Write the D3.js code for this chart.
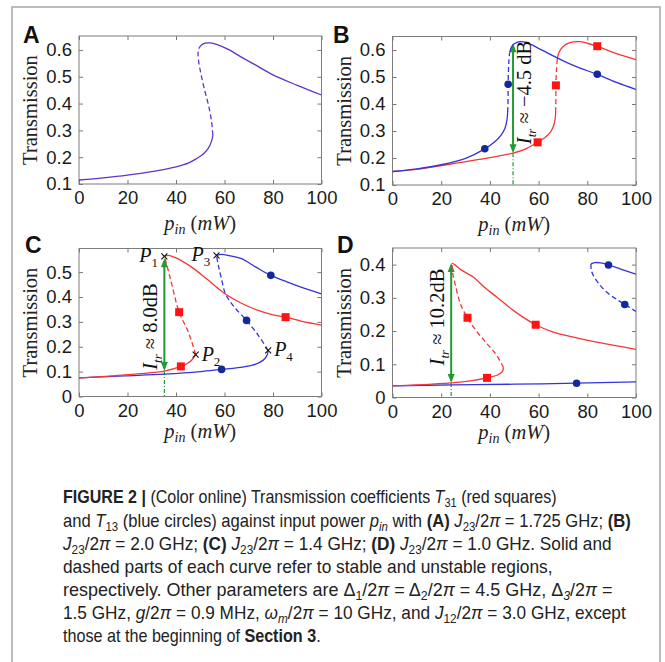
<!DOCTYPE html>
<html>
<head>
<meta charset="utf-8">
<script src="https://cdn.jsdelivr.net/npm/d3@7"></script>
<style>
  body { margin: 0; background: #fff; }
  svg { display: block; }
</style>
</head>
<body>
<svg id="fig" width="665" height="662"></svg>
<script>
// ---- tick values ----
const pinTicks = [0, 20, 40, 60, 80, 100];
const ticksAB = [0.1, 0.2, 0.3, 0.4, 0.5, 0.6];
const ticksC = [0, 0.1, 0.2, 0.3, 0.4, 0.5];
const ticksD = [0, 0.1, 0.2, 0.3, 0.4];

// ---- Panel A (T31 and T13 coincide) : [p_in (mW), transmission] ----
const aLow = [[0, 0.115], [10, 0.123], [20, 0.133], [30, 0.146], [40, 0.164], [45, 0.178], [48.5, 0.195], [51, 0.21], [53.3, 0.233], [54.6, 0.258], [55.2, 0.282]];
const aMid = [[55.2, 0.282], [54.7, 0.33], [53.5, 0.39], [51.8, 0.45], [50.3, 0.51], [49.3, 0.56], [49.1, 0.59], [49.5, 0.607]];
const aHigh = [[49.5, 0.607], [50.5, 0.618], [52, 0.625], [54, 0.626], [57, 0.62], [62, 0.6], [66.4, 0.576], [72, 0.548], [80, 0.507], [90, 0.468], [100, 0.432]];

// ---- Panel B ----
const bBlueLow = [[0, 0.15], [10, 0.16], [20, 0.175], [30, 0.199], [37.9, 0.234], [42, 0.26], [44.6, 0.285], [46.2, 0.31], [47, 0.34], [47.3, 0.37]];
const bBlueMid = [[47.3, 0.37], [47.45, 0.42], [47.5, 0.473], [47.6, 0.52], [47.8, 0.56], [48.1, 0.59]];
const bBlueHigh = [[48.1, 0.59], [48.8, 0.61], [50, 0.623], [52.3, 0.631], [55, 0.628], [59.2, 0.61], [65, 0.583], [70.1, 0.56], [77, 0.533], [84.1, 0.51], [92, 0.48], [100, 0.454]];
const bRedLow = [[0, 0.15], [10, 0.158], [22.2, 0.175], [35, 0.194], [49.5, 0.218], [55, 0.235], [59.6, 0.258], [62.5, 0.275], [64.6, 0.293], [66, 0.315], [66.8, 0.345], [67, 0.37]];
const bRedMid = [[67, 0.37], [67.1, 0.42], [67.1, 0.469], [67.3, 0.52], [67.6, 0.56]];
const bRedHigh = [[67.6, 0.56], [68.3, 0.59], [70, 0.612], [72.5, 0.626], [77, 0.631], [80, 0.625], [84.1, 0.614], [90, 0.593], [100, 0.564]];
const bSquares = [[59.6, 0.258], [67.1, 0.469], [84.1, 0.614]];
const bCircles = [[37.9, 0.234], [47.5, 0.473], [84.1, 0.51]];
const bArrow = { p: 49.5, lo: 0.218, hi: 0.625, floor: 0.1 };

// ---- Panel C ----
const cRedLow = [[0, 0.075], [10, 0.08], [19, 0.087], [28, 0.094], [35.2, 0.102], [42, 0.121], [45, 0.135], [46.8, 0.15], [48.1, 0.168]];
const cRedMid = [[48.1, 0.168], [46.5, 0.22], [44.6, 0.27], [41.3, 0.339], [38.2, 0.453], [36.2, 0.53], [35.2, 0.563]];
const cRedHigh = [[35.2, 0.563], [36.8, 0.567], [40, 0.557], [46.4, 0.52], [53, 0.47], [60.2, 0.413], [67, 0.375], [73.9, 0.346], [80, 0.328], [85.2, 0.319], [92, 0.302], [100, 0.287]];
const cBlueLow = [[0, 0.075], [19, 0.083], [35.2, 0.09], [50, 0.1], [58.8, 0.109], [65, 0.115], [71.2, 0.125], [74.5, 0.137], [76.6, 0.152], [77.7, 0.17], [78, 0.185]];
const cBlueMid = [[78, 0.185], [74, 0.245], [69.1, 0.306], [64, 0.36], [60.4, 0.413], [58.6, 0.48], [57.4, 0.53], [56.7, 0.567]];
const cBlueHigh = [[56.7, 0.567], [58.8, 0.571], [62, 0.566], [67, 0.554], [73, 0.52], [79.1, 0.487], [86, 0.46], [93, 0.435], [100, 0.413]];
const cSquares = [[41.3, 0.339], [42, 0.121], [85.2, 0.319]];
const cCircles = [[58.8, 0.109], [69.1, 0.306], [79.1, 0.487]];
const cPoints = [["1", 35.2, 0.563], ["2", 48.1, 0.168], ["3", 56.7, 0.567], ["4", 78, 0.185]];
const cArrow = { p: 35.2, lo: 0.103, hi: 0.556, floor: 0 };

// ---- Panel D ----
const dRedLow = [[0, 0.035], [10, 0.038], [24.1, 0.044], [32, 0.05], [38.8, 0.059], [42.9, 0.067], [45, 0.077], [45.6, 0.09]];
const dRedMid = [[45.6, 0.09], [42.5, 0.13], [38.7, 0.163], [34.5, 0.2], [30.8, 0.24], [28, 0.28], [25.7, 0.342], [24.6, 0.38], [24.4, 0.405]];
const dRedHigh = [[24.4, 0.405], [25.5, 0.4], [28, 0.385], [33.3, 0.362], [38, 0.33], [42.9, 0.302], [50, 0.26], [58.8, 0.219], [66, 0.197], [74.3, 0.182], [85, 0.165], [100, 0.145]];
const dBlueLow = [[0, 0.035], [25, 0.038], [50, 0.04], [75.6, 0.043], [100, 0.047]];
const dBlueMid = [[81.5, 0.402], [81.6, 0.385], [82.5, 0.367], [85, 0.34], [88, 0.317], [91.5, 0.298], [95.4, 0.28], [100, 0.259]];
const dBlueHigh = [[81.5, 0.402], [83, 0.406], [85.5, 0.405], [88.7, 0.399], [94, 0.386], [100, 0.371]];
const dSquares = [[30.8, 0.24], [38.8, 0.059], [58.8, 0.219]];
const dCircles = [[75.6, 0.043], [88.7, 0.399], [95.4, 0.28]];
const dArrow = { p: 24.1, lo: 0.044, hi: 0.405, floor: 0 };

// ---- caption ----
const captionLines = [
    [["FIGURE 2 | ", "b"], ["(Color online) Transmission coefficients ", ""], ["T", "i"], ["31", "sub"], [" (red squares)", ""]],
    [["and ", ""], ["T", "i"], ["13", "sub"], [" (blue circles) against input power ", ""], ["p", "i"], ["in", "isub"], [" with ", ""], ["(A)", "b"], [" ", ""], ["J", "i"], ["23", "sub"], ["/2", ""], ["π", "i"], [" = 1.725 GHz; ", ""], ["(B)", "b"]],
    [["J", "i"], ["23", "sub"], ["/2", ""], ["π", "i"], [" = 2.0 GHz; ", ""], ["(C)", "b"], [" ", ""], ["J", "i"], ["23", "sub"], ["/2", ""], ["π", "i"], [" = 1.4 GHz; ", ""], ["(D)", "b"], [" ", ""], ["J", "i"], ["23", "sub"], ["/2", ""], ["π", "i"], [" = 1.0 GHz. Solid and", ""]],
    [["dashed parts of each curve refer to stable and unstable regions,", ""]],
    [["respectively. Other parameters are Δ", ""], ["1", "sub"], ["/2", ""], ["π", "i"], [" = Δ", ""], ["2", "sub"], ["/2", ""], ["π", "i"], [" = 4.5 GHz, Δ", ""], ["3", "isub"], ["/2", ""], ["π", "i"], [" =", ""]],
    [["1.5 GHz, ", ""], ["g", "i"], ["/2", ""], ["π", "i"], [" = 0.9 MHz, ", ""], ["ω", "i"], ["m", "isub"], ["/2", ""], ["π", "i"], [" = 10 GHz, and ", ""], ["J", "i"], ["12", "sub"], ["/2", ""], ["π", "i"], [" = 3.0 GHz, except", ""]],
    [["those at the beginning of ", ""], ["Section 3", "b"], [".", ""]]
];
const captionEnds = [557, 631, 612, 553, 613, 626, 321];

const RED = "#f73535", BLUE = "#3434dc", PURPLE = "#6333c8";
const SQ = "#ff1414", CIRC = "#15289a", GREEN = "#1e9c34";
const SERIF = "'Liberation Serif', 'Times New Roman', serif";
const SANS = "'Liberation Sans', Arial, sans-serif";

const svg = d3.select("#fig");

// outer frame
svg.append("path")
    .attr("d", "M12,662V7H660V662")
    .attr("fill", "none")
    .attr("stroke", "#a7a7a7")
    .attr("stroke-width", 1.5);

function drawPanel(opt) {
    const w = opt.box.right - opt.box.left;
    const h = opt.box.bottom - opt.box.top;
    const g = svg.append("g").attr("transform", `translate(${opt.box.left},${opt.box.top})`);

    const x = d3.scaleLinear().domain([0, 100]).range([0, w]);
    const y = d3.scaleLinear().domain(opt.yDomain).range([h, 0]);

    const clipId = "clip" + opt.letter;
    g.append("clipPath").attr("id", clipId)
        .append("rect").attr("width", w).attr("height", h);

    // axes, ticks pointing inward
    const axes = [
        [d3.axisBottom(x).tickValues(pinTicks), `translate(0,${h})`, true],
        [d3.axisLeft(y).tickValues(opt.yTicks).tickFormat(d => d === 0 ? "0" : d3.format(".1f")(d)), null, true],
        [d3.axisTop(x).tickValues(pinTicks).tickFormat(""), null, false],
        [d3.axisRight(y).tickValues(opt.yTicks).tickFormat(""), `translate(${w},0)`, false]
    ];
    axes.forEach(([ax, tr, labels]) => {
        const a = g.append("g")
            .call(ax.tickSizeInner(-4).tickSizeOuter(0).tickPadding(labels ? 7 : 0));
        if (tr) a.attr("transform", tr);
        a.select(".domain").remove();
        a.selectAll("line").attr("stroke", "#777");
        a.selectAll("text")
            .attr("font-family", SANS)
            .attr("font-size", 18.5)
            .attr("fill", "#1a1a1a");
    });

    g.append("rect")
        .attr("width", w).attr("height", h)
        .attr("fill", "none")
        .attr("stroke", "#7d7d7d")
        .attr("stroke-width", 1);

    // axis labels
    g.append("text")
        .attr("transform", `translate(-42,${h / 2}) rotate(-90)`)
        .attr("text-anchor", "middle")
        .attr("font-family", SERIF)
        .attr("font-size", 20.5)
        .attr("fill", "#222")
        .text("Transmission");

    const xl = g.append("text")
        .attr("x", w / 2)
        .attr("y", h + opt.xLabelOffset)
        .attr("text-anchor", "middle")
        .attr("font-family", SERIF)
        .attr("font-size", 20.5)
        .attr("fill", "#222");
    xl.append("tspan").attr("font-style", "italic").text("p");
    xl.append("tspan").attr("font-style", "italic").attr("font-size", 14).attr("dy", 4).text("in");
    xl.append("tspan").attr("dy", -4).text("  (");
    xl.append("tspan").attr("font-style", "italic").text("mW");
    xl.append("tspan").text(")");

    // panel letter
    svg.append("text")
        .attr("x", opt.letterPos[0])
        .attr("y", opt.letterPos[1])
        .attr("font-family", SANS)
        .attr("font-weight", "bold")
        .attr("font-size", 23)
        .attr("fill", "#111")
        .text(opt.letter);

    const plot = g.append("g").attr("clip-path", `url(#${clipId})`);
    const line = d3.line()
        .x(d => x(d[0]))
        .y(d => y(d[1]))
        .curve(d3.curveCatmullRom.alpha(0.5));

    // green transmission-contrast arrow
    if (opt.arrow) {
        const ar = opt.arrow;
        const ax = x(ar.p), yLo = y(ar.lo), yHi = y(ar.hi);
        plot.append("line")
            .attr("x1", ax).attr("x2", ax)
            .attr("y1", yLo).attr("y2", y(ar.floor))
            .attr("stroke", GREEN).attr("stroke-width", 1.2)
            .attr("stroke-dasharray", "4,2,1,2");
        plot.append("line")
            .attr("x1", ax).attr("x2", ax)
            .attr("y1", yLo - 6).attr("y2", yHi + 6)
            .attr("stroke", GREEN).attr("stroke-width", 2);
        plot.append("path")
            .attr("d", `M${ax},${yHi}L${ax - 3.5},${yHi + 9}L${ax + 3.5},${yHi + 9}Z`)
            .attr("fill", GREEN);
        plot.append("path")
            .attr("d", `M${ax},${yLo}L${ax - 3.5},${yLo - 9}L${ax + 3.5},${yLo - 9}Z`)
            .attr("fill", GREEN);
    }

    opt.curves.forEach(c => {
        plot.append("path")
            .datum(c.pts)
            .attr("d", line)
            .attr("fill", "none")
            .attr("stroke", c.color)
            .attr("stroke-width", 1.3)
            .attr("stroke-dasharray", c.dashed ? "5,3" : null);
    });

    if (opt.squares) {
        plot.selectAll(".sq").data(opt.squares).enter().append("rect")
            .attr("x", d => x(d[0]) - 4)
            .attr("y", d => y(d[1]) - 4)
            .attr("width", 8).attr("height", 8)
            .attr("fill", SQ);
    }
    if (opt.circles) {
        plot.selectAll(".ci").data(opt.circles).enter().append("circle")
            .attr("cx", d => x(d[0]))
            .attr("cy", d => y(d[1]))
            .attr("r", 3.8)
            .attr("fill", CIRC);
    }

    // turning points P1..P4
    if (opt.points) {
        opt.points.forEach(([k, p, t]) => {
            const px = x(p), py = y(t);
            plot.append("path")
                .attr("d", `M${px - 3},${py - 3}L${px + 3},${py + 3}M${px - 3},${py + 3}L${px + 3},${py - 3}`)
                .attr("stroke", "#111").attr("stroke-width", 1.1);
            const left = k === "1" || k === "3";
            const lbl = g.append("text")
                .attr("x", left ? px - 25 : px + 6)
                .attr("y", py + 6)
                .attr("font-family", SERIF)
                .attr("font-size", 20)
                .attr("fill", "#111");
            lbl.append("tspan").attr("font-style", "italic").text("P");
            lbl.append("tspan").attr("font-size", 13).attr("dy", 5).text(k);
        });
    }

    // rotated I_tr label
    if (opt.itr) {
        const t = g.append("text")
            .attr("transform", `translate(${opt.itr.x},${opt.itr.y}) rotate(-90)`)
            .attr("text-anchor", "middle")
            .attr("font-family", SERIF)
            .attr("font-size", 20.5)
            .attr("fill", "#111");
        t.append("tspan").attr("font-style", "italic").text("I");
        t.append("tspan").attr("font-style", "italic").attr("font-size", 13).attr("dy", 5).text("tr");
        t.append("tspan").attr("dy", -5).text(" ≈ " + opt.itr.text);
    }
}

drawPanel({
    letter: "A", letterPos: [23, 43],
    box: { left: 79, right: 321.5, top: 36, bottom: 184 },
    yDomain: [0.1, 0.652], yTicks: ticksAB, xLabelOffset: 46,
    curves: [
        { pts: aLow, color: PURPLE },
        { pts: aMid, color: PURPLE, dashed: true },
        { pts: aHigh, color: PURPLE }
    ]
});

drawPanel({
    letter: "B", letterPos: [333, 43],
    box: { left: 392.5, right: 636, top: 36.5, bottom: 185 },
    yDomain: [0.1, 0.65], yTicks: ticksAB, xLabelOffset: 46,
    arrow: bArrow,
    itr: { x: 138, y: 56, text: "−4.5 dB" },
    curves: [
        { pts: bRedLow, color: RED },
        { pts: bRedMid, color: RED, dashed: true },
        { pts: bRedHigh, color: RED },
        { pts: bBlueLow, color: BLUE },
        { pts: bBlueMid, color: BLUE, dashed: true },
        { pts: bBlueHigh, color: BLUE }
    ],
    squares: bSquares, circles: bCircles
});

drawPanel({
    letter: "C", letterPos: [25, 253],
    box: { left: 79, right: 321.5, top: 248.5, bottom: 396.5 },
    yDomain: [0, 0.595], yTicks: ticksC, xLabelOffset: 41,
    arrow: cArrow,
    itr: { x: 78, y: 78, text: "8.0dB" },
    curves: [
        { pts: cBlueLow, color: BLUE },
        { pts: cBlueMid, color: BLUE, dashed: true },
        { pts: cBlueHigh, color: BLUE },
        { pts: cRedLow, color: RED },
        { pts: cRedMid, color: RED, dashed: true },
        { pts: cRedHigh, color: RED }
    ],
    squares: cSquares, circles: cCircles, points: cPoints
});

drawPanel({
    letter: "D", letterPos: [337, 253],
    box: { left: 392.5, right: 636, top: 248, bottom: 397.5 },
    yDomain: [0, 0.45], yTicks: ticksD, xLabelOffset: 41,
    arrow: dArrow,
    itr: { x: 51, y: 69, text: "10.2dB" },
    curves: [
        { pts: dBlueLow, color: BLUE },
        { pts: dBlueMid, color: BLUE, dashed: true },
        { pts: dBlueHigh, color: BLUE },
        { pts: dRedLow, color: RED },
        { pts: dRedMid, color: RED, dashed: true },
        { pts: dRedHigh, color: RED }
    ],
    squares: dSquares, circles: dCircles
});

// caption, squeezed to the condensed width of the original
const capX = 63;
captionLines.forEach((segs, i) => {
    const baseY = 503.5 + i * 23.15;
    const g = svg.append("g");
    const t = g.append("text")
        .attr("x", capX).attr("y", baseY)
        .attr("font-family", SANS)
        .attr("font-size", 17.5)
        .attr("fill", "#222");
    let shifted = false;
    segs.forEach(([txt, st]) => {
        const s = t.append("tspan").text(txt);
        const isSub = st === "sub" || st === "isub";
        if (isSub && !shifted) { s.attr("dy", 4); shifted = true; }
        else if (!isSub && shifted) { s.attr("dy", -4); shifted = false; }
        if (isSub) s.attr("font-size", 12);
        if (st === "b") s.attr("font-weight", "bold");
        if (st === "i" || st === "isub") s.attr("font-style", "italic");
    });
    const len = t.node().getComputedTextLength();
    const k = (captionEnds[i] - capX) / len;
    g.attr("transform", `translate(${capX},0) scale(${k},1) translate(${-capX},0)`);
});
</script>
</body>
</html>
